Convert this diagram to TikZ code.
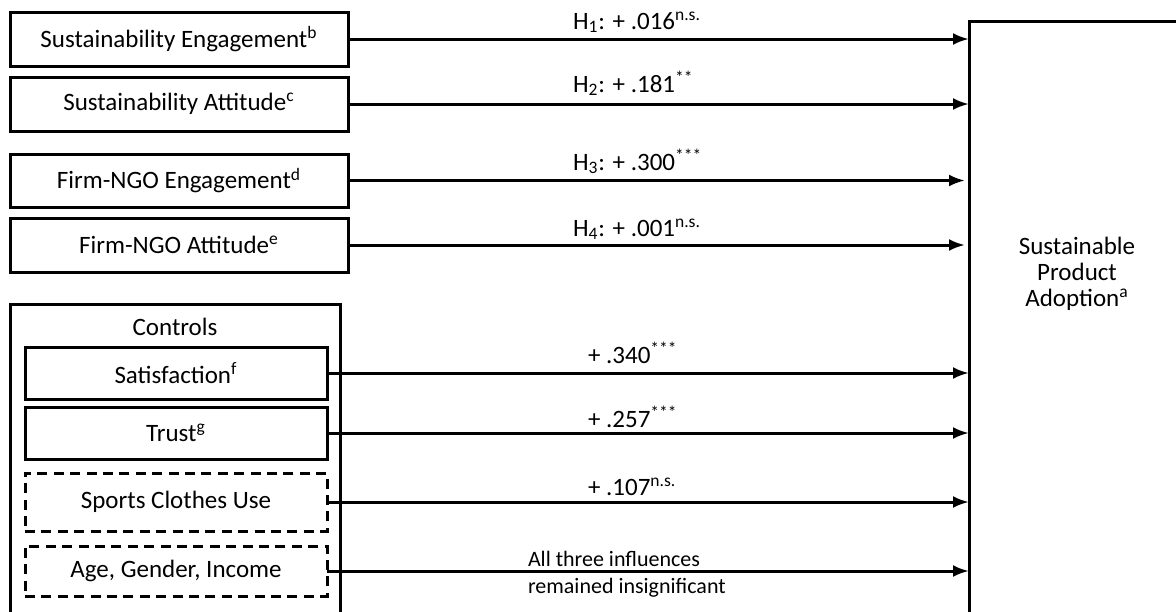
\documentclass[tikz,border=0pt]{standalone}
\usepackage{fontspec}
\setmainfont{Carlito}
\usetikzlibrary{arrows.meta}
\begin{document}
\begin{tikzpicture}[x=0.5pt,y=-0.5pt,
  every node/.style={inner sep=0pt,outer sep=0pt},
  txt/.style={font=\fontsize{12.5}{12}\selectfont},
  varbox/.style={draw,line width=1.5pt,txt,minimum width=169pt},
  ctlbox/.style={draw,line width=1.5pt,txt,minimum width=151pt,minimum height=26pt},
  dashbox/.style={draw,line width=1.5pt,dash pattern=on 5pt off 3.2pt,txt,minimum width=151pt},
  arr/.style={line width=1.5pt,-{Latex[length=8pt,width=6pt]}},
  lab/.style={anchor=base west,txt},
  small/.style={font=\fontsize{11}{13.5}\selectfont,align=left}]
\clip (0,0) rectangle (1176,611);

% outcome box (runs off the right and bottom edges)
\node[draw,line width=1.5pt,minimum width=110.5pt,minimum height=304.5pt] (spa) at (1079.5,325.5) {};
\node[font=\fontsize{12.5}{13}\selectfont,align=center] (spatext) at (1077,274) {Sustainable\\Product\\Adoption\textsuperscript{a}};

% hypothesised drivers
\node[varbox,minimum height=27pt] (se) at (179,39) {Sustainability Engagement\textsuperscript{b}};
\node[varbox,minimum height=27pt] (sa) at (179,104) {Sustainability Attitude\textsuperscript{c}};
\node[varbox,minimum height=26.5pt] (fe) at (179,180.5) {Firm-NGO Engagement\textsuperscript{d}};
\node[varbox,minimum height=27pt] (fa) at (179,245) {Firm-NGO Attitude\textsuperscript{e}};

% control variables
\node[draw,line width=1.5pt,minimum width=165pt,minimum height=160.5pt] (ctrl) at (175,464.5) {};
\node[txt] (ctrltitle) at (175,327) {Controls};
\node[ctlbox] (sat) at (176,373) {Satisfaction\textsuperscript{f}};
\node[ctlbox] (tru) at (176,433) {Trust\textsuperscript{g}};
\node[dashbox,minimum height=29pt] (spo) at (176,502) {Sports Clothes Use};
\node[dashbox,minimum height=25pt] (age) at (176,571) {Age, Gender, Income};

% paths into the outcome
\draw[arr] (se.east) -- (se.east -| spa.west);
\draw[arr] (sa.east) -- (sa.east -| spa.west);
\draw[arr] (fe.east) -- ([xshift=-2pt]fe.east -| spa.west);
\draw[arr] (fa.east) -- ([xshift=-2pt]fa.east -| spa.west);
\draw[arr] (sat.east) -- (sat.east -| spa.west);
\draw[arr] (tru.east) -- (tru.east -| spa.west);
\draw[arr] (spo.east) -- (spo.east -| spa.west);
\draw[arr] (age.east) -- (age.east -| spa.west);

% path coefficients
\node[lab] (l1) at (573,29) {H\textsubscript{1}: + .016\textsuperscript{n.s.}};
\node[lab] (l2) at (573,92) {H\textsubscript{2}: + .181\textsuperscript{**}};
\node[lab] (l3) at (573,170) {H\textsubscript{3}: + .300\textsuperscript{***}};
\node[lab] (l4) at (573,236) {H\textsubscript{4}: + .001\textsuperscript{n.s.}};
\node[lab] (l5) at (588,363) {+ .340\textsuperscript{***}};
\node[lab] (l6) at (588,427) {+ .257\textsuperscript{***}};
\node[lab] (l7) at (588,495) {+ .107\textsuperscript{n.s.}};
\node[small,anchor=base west] (l8) at (528,593) {All three influences\\remained insignificant};
\end{tikzpicture}
\end{document}
